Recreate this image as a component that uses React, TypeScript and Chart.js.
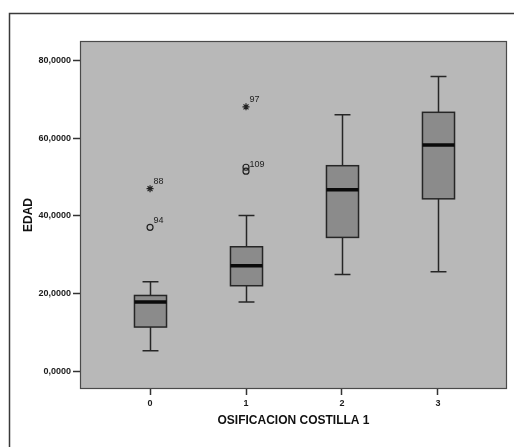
import React, { useEffect, useRef } from "react";
import { Chart, registerables } from "chart.js";

Chart.register(...registerables);

// ---- data ----
const CATEGORIES = [0, 1, 2, 3];
const X_TICK_LABELS = ["0", "1", "2", "3"];
const Y_TICK_VALUES = [0, 20, 40, 60, 80];
const Y_TICK_LABELS = ["0,0000", "20,0000", "40,0000", "60,0000", "80,0000"];
const WHISKER_LOW = [5.4, 17.9, 25.0, 25.7];
const Q1 = [11.5, 22.1, 34.5, 44.4];
const MEDIAN = [17.9, 27.2, 46.7, 58.2];
const Q3 = [19.6, 32.1, 52.9, 66.6];
const WHISKER_HIGH = [23.1, 40.1, 66.0, 75.8];
const OUTLIER_X = [0, 1, 1];
const OUTLIER_Y = [37.1, 51.5, 52.5];
const OUTLIER_LABELS = ["94", "109", ""];
const EXTREME_X = [0, 1];
const EXTREME_Y = [47.0, 68.0];
const EXTREME_LABELS = ["88", "97"];
const X_TITLE = "OSIFICACION COSTILLA 1";
const Y_TITLE = "EDAD";

const FONT = "'Liberation Sans', Arial, sans-serif";

const boxPlugin = {
  id: "spssBoxes",
  beforeDraw(chart: any) {
    const { ctx, chartArea: a } = chart;
    ctx.save();
    ctx.fillStyle = "#ffffff";
    ctx.fillRect(0, 0, chart.width, chart.height);
    ctx.strokeStyle = "#3a3a3a";
    ctx.lineWidth = 1.5;
    ctx.beginPath();
    ctx.moveTo(9.5, chart.height + 5);
    ctx.lineTo(9.5, 13.5);
    ctx.lineTo(chart.width + 5, 13.5);
    ctx.stroke();
    ctx.fillStyle = "#b8b8b8";
    ctx.fillRect(a.left, a.top, a.right - a.left, a.bottom - a.top);
    ctx.strokeStyle = "#4a4a4a";
    ctx.lineWidth = 1.2;
    ctx.strokeRect(a.left + 0.5, a.top + 0.5, a.right - a.left - 1, a.bottom - a.top - 1);
    ctx.restore();
  },
  beforeDatasetsDraw(chart: any) {
    const { ctx } = chart;
    const xs = chart.scales.x;
    const ys = chart.scales.y;
    const BOX_HALF = 0.167;
    const CAP_HALF = 0.083;
    ctx.save();
    CATEGORIES.forEach((c, i) => {
      const cx = Math.round(xs.getPixelForValue(c)) + 0.5;
      const half = xs.getPixelForValue(c + BOX_HALF) - xs.getPixelForValue(c);
      const cap = xs.getPixelForValue(c + CAP_HALF) - xs.getPixelForValue(c);
      const yLow = ys.getPixelForValue(WHISKER_LOW[i]);
      const yQ1 = ys.getPixelForValue(Q1[i]);
      const yMed = ys.getPixelForValue(MEDIAN[i]);
      const yQ3 = ys.getPixelForValue(Q3[i]);
      const yHigh = ys.getPixelForValue(WHISKER_HIGH[i]);
      ctx.strokeStyle = "#262626";
      ctx.lineWidth = 1.5;
      // whiskers
      ctx.beginPath();
      ctx.moveTo(cx, yQ3);
      ctx.lineTo(cx, yHigh);
      ctx.moveTo(cx - cap, yHigh);
      ctx.lineTo(cx + cap, yHigh);
      ctx.moveTo(cx, yQ1);
      ctx.lineTo(cx, yLow);
      ctx.moveTo(cx - cap, yLow);
      ctx.lineTo(cx + cap, yLow);
      ctx.stroke();
      // box
      ctx.fillStyle = "#8b8b8b";
      ctx.fillRect(cx - half, yQ3, 2 * half, yQ1 - yQ3);
      ctx.strokeRect(cx - half, yQ3, 2 * half, yQ1 - yQ3);
      // median
      ctx.strokeStyle = "#0a0a0a";
      ctx.lineWidth = 3.5;
      ctx.beginPath();
      ctx.moveTo(cx - half, yMed);
      ctx.lineTo(cx + half, yMed);
      ctx.stroke();
    });
    ctx.restore();
  },
  afterDatasetsDraw(chart: any) {
    const { ctx } = chart;
    const xs = chart.scales.x;
    const ys = chart.scales.y;
    ctx.save();
    ctx.fillStyle = "#222";
    ctx.font = `9px ${FONT}`;
    ctx.textAlign = "left";
    ctx.textBaseline = "bottom";
    const put = (x: number, y: number, t: string) => {
      if (!t) return;
      const px = xs.getPixelForValue(x);
      const py = ys.getPixelForValue(y);
      ctx.fillText(t, px + 3.5, py - 2.5);
    };
    OUTLIER_LABELS.forEach((t, i) => put(OUTLIER_X[i], OUTLIER_Y[i], t));
    EXTREME_LABELS.forEach((t, i) => put(EXTREME_X[i], EXTREME_Y[i], t));
    ctx.restore();
  },
};

export default function App() {
  const ref = useRef<HTMLCanvasElement | null>(null);
  useEffect(() => {
    if (!ref.current) return;
    const chart = new Chart(ref.current, {
      type: "scatter",
      data: {
        datasets: [
          {
            label: "outliers",
            data: OUTLIER_X.map((x, i) => ({ x, y: OUTLIER_Y[i] })),
            pointStyle: "circle",
            pointRadius: 3,
            borderColor: "#222",
            backgroundColor: "rgba(0,0,0,0)",
            borderWidth: 1.2,
          },
          {
            label: "extremes",
            data: EXTREME_X.map((x, i) => ({ x, y: EXTREME_Y[i] })),
            pointStyle: "star",
            pointRadius: 3.5,
            borderColor: "#222",
            backgroundColor: "#222",
            borderWidth: 1.2,
          },
        ],
      },
      options: {
        animation: false,
        responsive: false,
        layout: { padding: { top: 41, right: 7, left: 0, bottom: 0 } },
        plugins: { legend: { display: false }, tooltip: { enabled: false } },
        scales: {
          x: {
            type: "linear",
            min: -0.73,
            max: 3.72,
            afterBuildTicks: (s: any) => {
              s.ticks = CATEGORIES.map((v) => ({ value: v }));
            },
            afterFit: (s: any) => {
              s.height = 58;
            },
            border: { display: false },
            grid: {
              drawOnChartArea: false,
              drawTicks: true,
              tickLength: 6,
              tickColor: "#333",
              tickWidth: 1.5,
            },
            ticks: {
              autoSkip: false,
              maxRotation: 0,
              padding: 3,
              color: "#1a1a1a",
              font: { size: 9, weight: "bold", family: FONT },
              callback: (_v: any, i: number) => X_TICK_LABELS[i],
            },
            title: {
              display: true,
              text: X_TITLE,
              color: "#111",
              font: { size: 12, weight: "bold", family: FONT },
              padding: { top: 0, bottom: 19 },
            },
          },
          y: {
            type: "linear",
            min: -4.4,
            max: 84.9,
            afterBuildTicks: (s: any) => {
              s.ticks = Y_TICK_VALUES.map((v) => ({ value: v }));
            },
            afterFit: (s: any) => {
              s.width = 80;
            },
            border: { display: false },
            grid: {
              drawOnChartArea: false,
              drawTicks: true,
              tickLength: 7,
              tickColor: "#333",
              tickWidth: 1.5,
            },
            ticks: {
              padding: 2,
              color: "#1a1a1a",
              font: { size: 9, weight: "bold", family: FONT },
              callback: (_v: any, i: number) => Y_TICK_LABELS[i],
            },
            title: {
              display: true,
              text: Y_TITLE,
              color: "#111",
              font: { size: 12, weight: "bold", family: FONT },
              padding: { top: 21, bottom: 0 },
            },
          },
        },
      },
      plugins: [boxPlugin],
    } as any);
    return () => chart.destroy();
  }, []);
  return (
    <div style={{ position: "absolute", left: 0, top: 0, width: 514, height: 447 }}>
      <canvas ref={ref} width={514} height={447} style={{ display: "block" }} />
    </div>
  );
}
